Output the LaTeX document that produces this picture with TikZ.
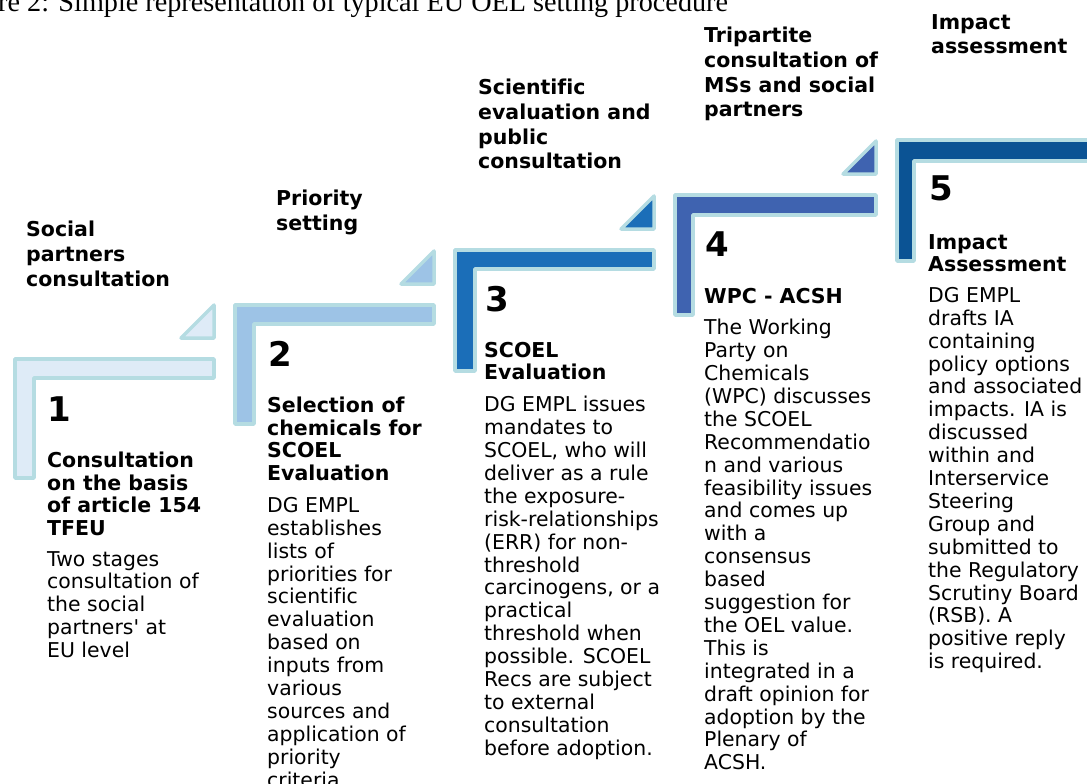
\documentclass[tikz,border=0pt]{standalone}
\usepackage{fontspec}
\setmainfont{DejaVu Sans}[Ligatures={TeX,NoCommon}]
\newfontfamily\capfont{Liberation Serif}
\definecolor{rim}{HTML}{B5DCE2}
\definecolor{stepone}{HTML}{DEEBF7}
\definecolor{steptwo}{HTML}{9DC3E6}
\definecolor{stepthree}{HTML}{1B6EB8}
\definecolor{stepfour}{HTML}{3F63B0}
\definecolor{stepfive}{HTML}{0B5394}
\begin{document}
\begin{tikzpicture}[x=1pt,y=-1pt,
    bar/.style={draw=rim,line width=3.5pt,line join=round},
    head/.style={anchor=north west,inner sep=0pt,align=left,font=\fontsize{20.5}{24.7}\selectfont\bfseries},
    num/.style={anchor=north west,inner sep=0pt,font=\fontsize{34}{34}\selectfont\bfseries},
    sub/.style={anchor=north west,inner sep=0pt,align=left,font=\fontsize{20.5}{22.5}\selectfont\bfseries},
    body/.style={anchor=north west,inner sep=0pt,align=left,font=\fontsize{20.4}{22.9}\selectfont}]
    \useasboundingbox (0,0) rectangle (1087,784);
    \node[anchor=base west,inner sep=0pt,font=\capfont\fontsize{28.2}{28.2}\selectfont] (cap) at (-2,12) {re 2: Simple representation of typical EU OEL setting procedure};

    % steps
    \filldraw[bar,fill=stepone] (15,359) -- (214,359) -- (214,378) -- (34,378) -- (34,478) -- (15,478) -- cycle;
    \filldraw[bar,fill=stepone] (214,338) -- (214,305) -- (181,338) -- cycle;
    \filldraw[bar,fill=steptwo] (235,305) -- (434,305) -- (434,324) -- (254,324) -- (254,424) -- (235,424) -- cycle;
    \filldraw[bar,fill=steptwo] (434,284) -- (434,251) -- (401,284) -- cycle;
    \filldraw[bar,fill=stepthree] (455,250) -- (654,250) -- (654,269) -- (475,269) -- (475,371) -- (455,371) -- cycle;
    \filldraw[bar,fill=stepthree] (654,229) -- (654,196) -- (621,229) -- cycle;
    \filldraw[bar,fill=stepfour] (675,195) -- (876,195) -- (876,215) -- (693,215) -- (693,315) -- (675,315) -- cycle;
    \filldraw[bar,fill=stepfour] (876,174) -- (876,141) -- (843,174) -- cycle;
    \filldraw[bar,fill=stepfive] (897,140) -- (1100,140) -- (1100,161) -- (914,161) -- (914,261) -- (897,261) -- cycle;

    \node[head] (h1) at (26,221) {Social\\partners\\consultation};
    \node[head] (h2) at (276,190) {Priority\\setting};
    \node[head] (h3) at (478,79) {Scientific\\evaluation and\\public\\consultation};
    \node[head] (h4) at (704,27) {Tripartite\\consultation of\\MSs and social\\partners};
    \node[head] (h5) at (931,14) {Impact\\assessment};

    \node[num] (n1) at (47,397) {1};
    \node[num] (n2) at (268,341) {2};
    \node[num] (n3) at (485,286) {3};
    \node[num] (n4) at (705,232) {4};
    \node[num] (n5) at (929,176) {5};

    \node[sub] (s1) at (47,452) {Consultation\\on the basis\\of article 154\\TFEU};
    \node[sub] (s2) at (267,397) {Selection of\\chemicals for\\SCOEL\\Evaluation};
    \node[sub] (s3) at (484,342) {SCOEL\\Evaluation};
    \node[sub] (s4) at (704,288) {WPC - ACSH};
    \node[sub] (s5) at (928,234) {Impact\\Assessment};

    \node[body] (b1) at (47,551) {Two stages\\consultation of\\the social\\partners\textquotesingle{} at\\EU level};
    \node[body] (b2) at (267,497) {DG EMPL\\establishes\\lists of\\priorities for\\scientific\\evaluation\\based on\\inputs from\\various\\sources and\\application of\\priority\\criteria.};
    \node[body] (b3) at (484,396) {DG EMPL issues\\mandates to\\SCOEL, who will\\deliver as a rule\\the exposure-\\risk-relationships\\(ERR) for non-\\threshold\\carcinogens, or a\\practical\\threshold when\\possible. SCOEL\\Recs are subject\\to external\\consultation\\before adoption.};
    \node[body] (b4) at (704,319) {The Working\\Party on\\Chemicals\\(WPC) discusses\\the SCOEL\\Recommendatio\\n and various\\feasibility issues\\and comes up\\with a\\consensus\\based\\suggestion for\\the OEL value.\\This is\\integrated in a\\draft opinion for\\adoption by the\\Plenary of\\ACSH.};
    \node[body] (b5) at (928,287) {DG EMPL\\drafts IA\\containing\\policy options\\and associated\\impacts. IA is\\discussed\\within and\\Interservice\\Steering\\Group and\\submitted to\\the Regulatory\\Scrutiny Board\\(RSB). A\\positive reply\\is required.};
\end{tikzpicture}
\end{document}
